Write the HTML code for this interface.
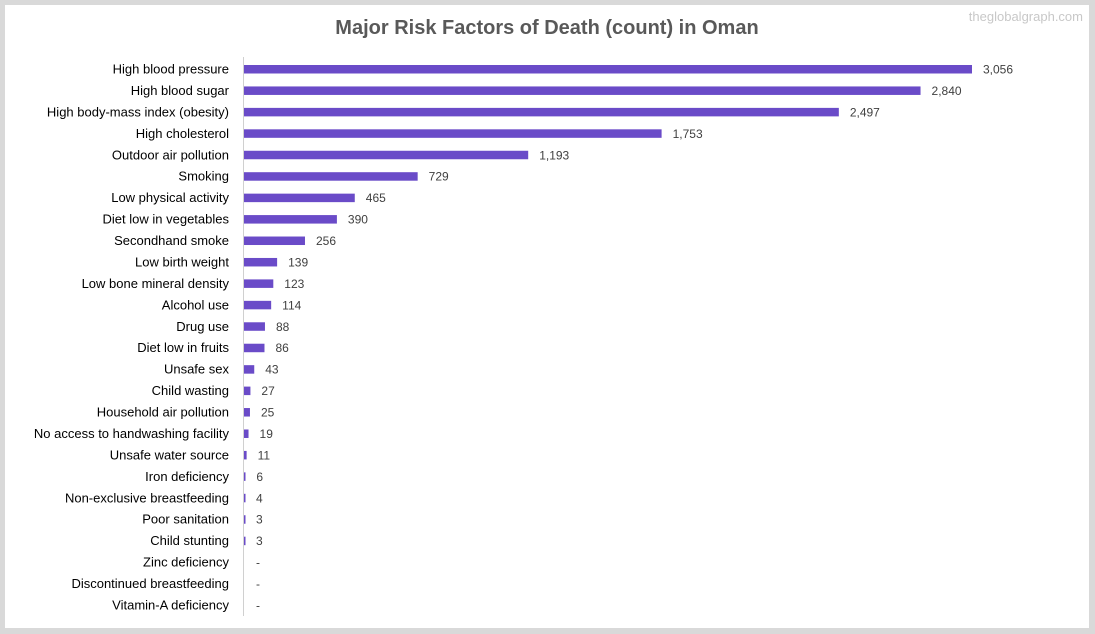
<!DOCTYPE html>
<html><head><meta charset="utf-8"><style>
body{margin:0;background:#d9d9d9;}
#wrap{position:absolute;left:5px;top:5px;width:1084px;height:623px;background:#fff;}
svg{position:absolute;left:0;top:0;}
text{font-family:"Liberation Sans",sans-serif;}
</style></head><body>
<div id="wrap"></div>
<svg id="chart" width="1095" height="634">
<text x="547" y="34" text-anchor="middle" font-size="20" font-weight="bold" fill="#595959">Major Risk Factors of Death (count) in Oman</text>
<text x="1083" y="21" text-anchor="end" font-size="13" fill="#c8c8c8">theglobalgraph.com</text>
<line x1="243.5" y1="57" x2="243.5" y2="616" stroke="#d0d0d0"/>
</svg>
<script>
const categories=["High blood pressure","High blood sugar","High body-mass index (obesity)","High cholesterol","Outdoor air pollution","Smoking","Low physical activity","Diet low in vegetables","Secondhand smoke","Low birth weight","Low bone mineral density","Alcohol use","Drug use","Diet low in fruits","Unsafe sex","Child wasting","Household air pollution","No access to handwashing facility","Unsafe water source","Iron deficiency","Non-exclusive breastfeeding","Poor sanitation","Child stunting","Zinc deficiency","Discontinued breastfeeding","Vitamin-A deficiency"];
const values=[3056,2840,2497,1753,1193,729,465,390,256,139,123,114,88,86,43,27,25,19,11,6,4,3,3,0,0,0];
const svg=document.getElementById('chart');
const NS='http://www.w3.org/2000/svg';
const x0=244, pxPerUnit=728/3056, y0=69, step=(605-69)/25;
const xs=v=>x0+v*pxPerUnit;
const ys=i=>y0+i*step;
categories.forEach((c,i)=>{
  const y=ys(i);
  const t=document.createElementNS(NS,'text');
  
  
  t.setAttribute('x',229);t.setAttribute('y',y+4.5);t.setAttribute('text-anchor','end');
  t.setAttribute('font-size','13');t.setAttribute('fill','#000');t.textContent=c;svg.appendChild(t);
  const v=values[i];
  const w=xs(v)-x0;
  if(v>0){
    const r=document.createElementNS(NS,'rect');
    
    
    r.setAttribute('x',x0);r.setAttribute('y',y-4);r.setAttribute('width',Math.max(w,1.5));r.setAttribute('height',8.5);
    r.setAttribute('fill','#6a4bc8');svg.appendChild(r);
  }
  const l=document.createElementNS(NS,'text');
  
  
  l.setAttribute('x',x0+Math.max(w,1)+11);l.setAttribute('y',y+4.5);
  l.setAttribute('font-size','12');l.setAttribute('fill','#404040');
  l.textContent=v>0?v.toLocaleString('en-US'):'-';svg.appendChild(l);
});
</script>
</body></html>
